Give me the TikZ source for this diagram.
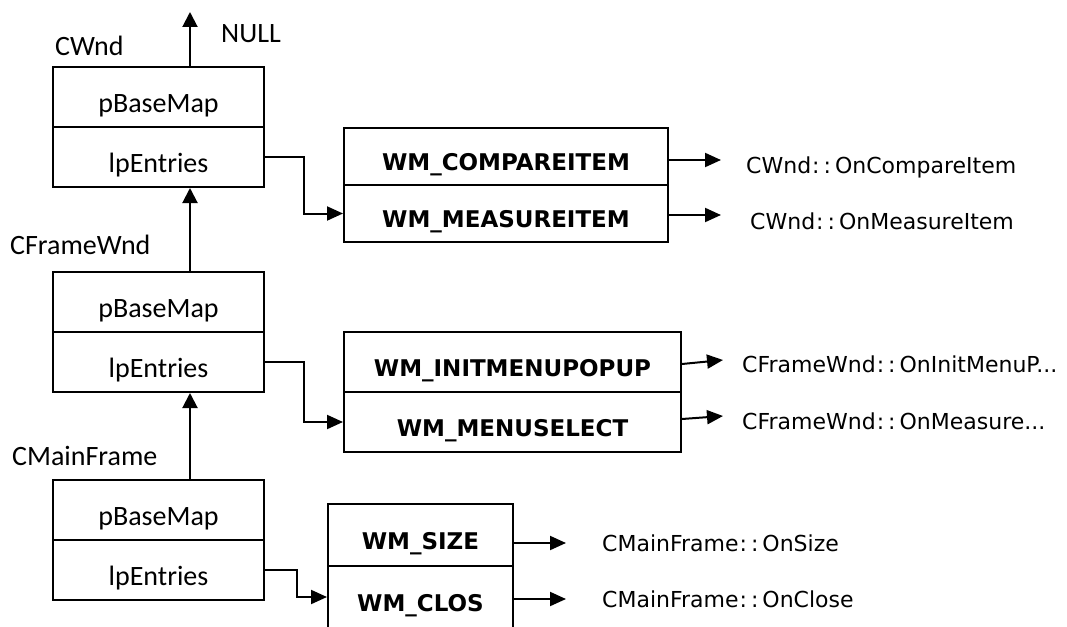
\documentclass[tikz,border=0pt]{standalone}
\usepackage{fontspec}
\setmainfont{Carlito}
\newfontfamily\msgfont{DejaVu Sans}
\usetikzlibrary{arrows.meta}
\newcommand\dcol{\kern1pt:\kern4pt:\kern4pt}
\tikzset{
  ln/.style={line width=2pt},
  arr/.style={ln, -{Triangle[length=15pt,width=15pt]}},
  sarr/.style={ln, -{Triangle[length=16pt,width=14pt]}},
  cls/.style={ln, draw, rectangle, inner sep=0pt, minimum width=211pt, minimum height=60pt,
    text height=31pt, text depth=1pt, font=\fontsize{28}{30}\selectfont},
  msg/.style={ln, draw, rectangle, inner sep=0pt,
    text height=29pt, text depth=1pt, font=\msgfont\bfseries\fontsize{23}{26}\selectfont},
  title/.style={anchor=base west, inner sep=0pt, font=\fontsize{28}{30}\selectfont},
  handler/.style={anchor=base west, inner sep=0pt, font=\msgfont\fontsize{22}{25}\selectfont},
}
\begin{document}
\begin{tikzpicture}[x=1pt, y=-1pt]
\clip (0,0) rectangle (1067,626);
\useasboundingbox (0,0) rectangle (1067,626);

% class message-map blocks
\node[cls] (cw1) at (158.5,97) {pBaseMap};
\node[cls] (cw2) at (158.5,157) {lpEntries};
\node[cls] (cf1) at (158.5,302) {pBaseMap};
\node[cls] (cf2) at (158.5,362) {lpEntries};
\node[cls] (cm1) at (158.5,510) {pBaseMap};
\node[cls] (cm2) at (158.5,570) {lpEntries};

\node[title] (tcw) at (55,56) {CWnd};
\node[title] (tcf) at (10,254) {CFrameWnd};
\node[title] (tcm) at (12,465) {CMainFrame};
\node[title] (tnull) at (221,43) {NULL};

% message entry tables
\node[msg, minimum width=324pt, minimum height=57pt] (m1a) at (506,156.5) {WM\_COMPAREITEM};
\node[msg, minimum width=324pt, minimum height=57pt] (m1b) at (506,213.5) {WM\_MEASUREITEM};
\node[msg, minimum width=337pt, minimum height=60pt] (m2a) at (512.5,362) {WM\_INITMENUPOPUP};
\node[msg, minimum width=337pt, minimum height=60pt] (m2b) at (512.5,422) {WM\_MENUSELECT};
\node[msg, minimum width=185pt, minimum height=62pt] (m3a) at (420.5,535) {WM\_SIZE};
\node[msg, minimum width=185pt, minimum height=62pt] (m3b) at (420.5,597) {WM\_CLOS};

% handler names
\node[handler] (h1a) at (746,173) {CWnd\dcol OnCompareItem};
\node[handler] (h1b) at (750,229) {CWnd\dcol OnMeasureItem};
\node[handler] (h2a) at (742,372) {CFrameWnd\dcol OnInitMenuP...};
\node[handler] (h2b) at (742,429) {CFrameWnd\dcol OnMeasure...};
\node[handler] (h3a) at (602,551) {CMainFrame\dcol OnSize};
\node[handler] (h3b) at (602,607) {CMainFrame\dcol OnClose};

% free ends of the handler arrows
\coordinate (e1a) at (721,160);
\coordinate (e1b) at (721,215);
\coordinate (e2a) at (723,360);
\coordinate (e2b) at (723,416);
\coordinate (e3a) at (566,543);
\coordinate (e3b) at (566,599);
\coordinate (enull) at (190,12);

% base-class chain
\draw[arr] ([xshift=31.5pt]cw1.north) -- (enull);
\draw[arr] ([xshift=31.5pt]cf1.north) -- ([xshift=31.5pt]cw2.south);
\draw[arr] ([xshift=31.5pt]cm1.north) -- ([xshift=31.5pt]cf2.south);

% entries pointers
\draw[sarr] (cw2.east) -- ++(39,0) |- (m1b.west);
\draw[sarr] (cf2.east) -- ++(39,0) |- (m2b.west);
\draw[sarr] (cm2.east) -- ++(32,0) |- (m3b.west);

% handler arrows
\draw[sarr] (m1a.east |- e1a) -- (e1a);
\draw[sarr] (m1b.east |- e1b) -- (e1b);
\draw[sarr] ([yshift=-2pt]m2a.east) -- (e2a);
\draw[sarr] ([yshift=3pt]m2b.east) -- (e2b);
\draw[sarr] (m3a.east |- e3a) -- (e3a);
\draw[sarr] (m3b.east |- e3b) -- (e3b);
\end{tikzpicture}
\end{document}
